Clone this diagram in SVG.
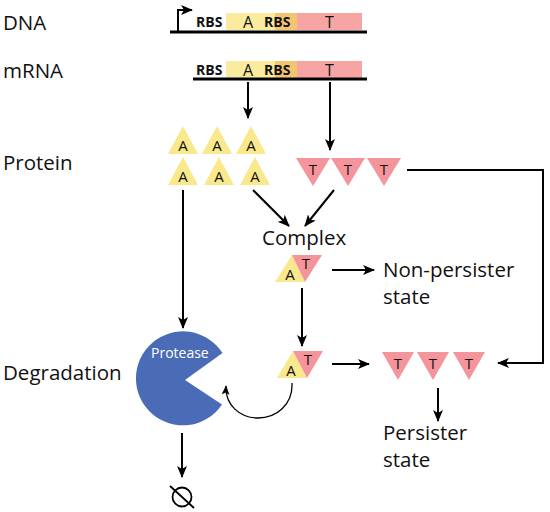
<svg xmlns="http://www.w3.org/2000/svg" width="550" height="512" viewBox="0 0 550 512">
<style>
.lbl{font-family:"Open Sans","Noto Sans",sans-serif;font-size:20.5px;fill:#111}
.sm{font-family:"Open Sans","Noto Sans",sans-serif;font-size:16px;fill:#111}
.b{font-weight:bold;font-size:14px}
.tri{font-family:"Open Sans","Noto Sans",sans-serif;font-size:15px;fill:#111;text-anchor:middle}
.ya{fill:#F9E98C}
.pt{fill:#F4959B}
.arr{stroke:#000;stroke-width:2;fill:none;marker-end:url(#ah)}
</style>
<defs>
<marker id="ah" viewBox="0 0 12 10" refX="11" refY="5" markerWidth="12" markerHeight="10" markerUnits="userSpaceOnUse" orient="auto">
<path d="M0,0 L12,5 L0,10 L3,5 z" fill="#000"/>
</marker>
<marker id="ahs" viewBox="0 0 12 10" refX="11" refY="5" markerWidth="10" markerHeight="8" markerUnits="userSpaceOnUse" orient="auto">
<path d="M0,0 L12,5 L0,10 L3,5 z" fill="#000"/>
</marker>
</defs>
<rect width="550" height="512" fill="#fff"/>

<g id="labels">
<text class="lbl" x="3" y="30">DNA</text>
<text class="lbl" x="3" y="78">mRNA</text>
<text class="lbl" x="3" y="170">Protein</text>
<text class="lbl" x="3" y="380">Degradation</text>
</g>

<g id="dna">
<rect x="226" y="13" width="50" height="17" fill="#FBEB9E"/>
<rect x="275" y="13" width="22" height="17" fill="#F6C46E"/>
<rect x="297" y="13" width="65" height="17" fill="#F7A4A4"/>
<line x1="170" y1="32" x2="367" y2="32" stroke="#000" stroke-width="3"/>
<path d="M178,32 V10 H192" class="arr"/>
<text class="sm b" x="196" y="27">RBS</text>
<text class="sm" x="243" y="28">A</text>
<text class="sm b" x="264" y="27">RBS</text>
<text class="sm" x="325" y="28">T</text>
</g>

<g id="mrna">
<rect x="226" y="61" width="50" height="17" fill="#FBEB9E"/>
<rect x="275" y="61" width="22" height="17" fill="#F6C46E"/>
<rect x="297" y="61" width="65" height="17" fill="#F7A4A4"/>
<line x1="193" y1="79" x2="367" y2="79" stroke="#000" stroke-width="3"/>
<text class="sm b" x="196" y="75">RBS</text>
<text class="sm" x="243" y="76">A</text>
<text class="sm b" x="264" y="75">RBS</text>
<text class="sm" x="325" y="76">T</text>
</g>

<g id="proteinA">
<polygon class="ya" points="168,154 183,126 198,154"/>
<polygon class="ya" points="202,154 217,126 232,154"/>
<polygon class="ya" points="236,154 251,126 266,154"/>
<polygon class="ya" points="168,185 183,157 198,185"/>
<polygon class="ya" points="204,185 219,157 234,185"/>
<polygon class="ya" points="240,185 255,157 270,185"/>
<text class="tri" x="183" y="151">A</text>
<text class="tri" x="217" y="151">A</text>
<text class="tri" x="251" y="151">A</text>
<text class="tri" x="183" y="182">A</text>
<text class="tri" x="219" y="182">A</text>
<text class="tri" x="255" y="182">A</text>
</g>

<g id="proteinT">
<polygon class="pt" points="296,158 330,158 313,186"/>
<polygon class="pt" points="331,158 365,158 348,186"/>
<polygon class="pt" points="367,158 401,158 384,186"/>
<text class="tri" x="313" y="175">T</text>
<text class="tri" x="348" y="175">T</text>
<text class="tri" x="384" y="175">T</text>
</g>

<g id="complex">
<text class="lbl" x="262" y="245">Complex</text>
<polygon class="ya" points="275,282 292,255 305,282"/>
<polygon class="pt" points="292,255 322,255 305,282"/>
<text class="tri" x="290" y="280">A</text>
<text class="tri" x="306" y="269">T</text>
</g>

<g id="nonpersister">
<text class="lbl" x="383" y="277">Non-persister</text>
<text class="lbl" x="383" y="304">state</text>
</g>

<g id="complex2">
<polygon class="ya" points="277,378 293,351 307,378"/>
<polygon class="pt" points="293,351 323,351 307,378"/>
<text class="tri" x="291" y="376">A</text>
<text class="tri" x="308" y="365">T</text>
</g>

<g id="freeT">
<polygon class="pt" points="382,352 414,352 398,380"/>
<polygon class="pt" points="417,352 449,352 433,380"/>
<polygon class="pt" points="453,352 485,352 469,380"/>
<text class="tri" x="398" y="369">T</text>
<text class="tri" x="433" y="369">T</text>
<text class="tri" x="469" y="369">T</text>
</g>

<g id="persister">
<text class="lbl" x="383" y="440">Persister</text>
<text class="lbl" x="383" y="467">state</text>
</g>

<g id="protease">
<path d="M185,380 L222.5,353 A47,47 0 1,0 222,404.5 Z" fill="#4A6CB6"/>
<text x="151" y="358" font-family="'Open Sans','Noto Sans',sans-serif" font-size="14" fill="#fff">Protease</text>
</g>

<g id="emptyset">
<circle cx="182" cy="497" r="9.5" fill="none" stroke="#000" stroke-width="1.8"/>
<line x1="170" y1="486" x2="194" y2="508" stroke="#000" stroke-width="1.8"/>
</g>

<g id="connectors">
<line class="arr" x1="248" y1="82" x2="248" y2="118"/>
<line class="arr" x1="330" y1="82" x2="330" y2="150"/>
<line class="arr" x1="253" y1="190" x2="289" y2="226"/>
<line class="arr" x1="334" y1="190" x2="305" y2="226"/>
<line class="arr" x1="183" y1="190" x2="183" y2="328"/>
<line class="arr" x1="332" y1="270" x2="374" y2="270"/>
<line class="arr" x1="302" y1="288" x2="302" y2="346"/>
<line class="arr" x1="332" y1="364" x2="369" y2="364"/>
<path class="arr" d="M407,170 H543 V363 H498"/>
<line class="arr" x1="438" y1="388" x2="438" y2="421"/>
<line class="arr" x1="182" y1="433" x2="182" y2="477"/>
<path d="M292,383 C293,405 276,418 258,418 C240,418 225,405 226,386" fill="none" stroke="#000" stroke-width="1.3" marker-end="url(#ahs)"/>
</g>
</svg>
